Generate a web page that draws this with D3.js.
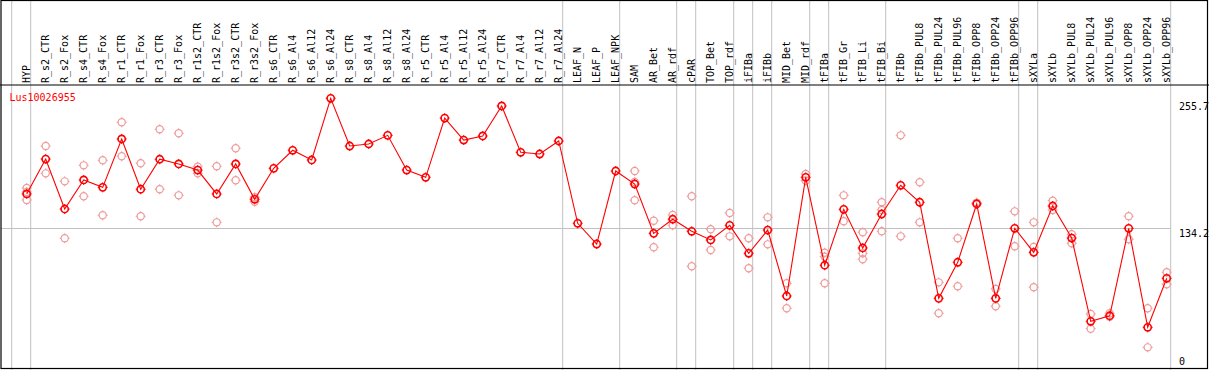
<!DOCTYPE html>
<html lang="en">
<head>
<meta charset="UTF-8">
<title>Lus10026955</title>
<style>
    body { margin: 0; background: #fff; }
    svg { display: block; }
    .lbl { font-family: "DejaVu Sans Mono", monospace; font-size: 10px; fill: #000; }
    .grid { stroke: #c0c0c0; stroke-width: 1; }
    .frame { stroke: #000; stroke-width: 1.2; fill: none; }
</style>
</head>
<body>
<svg id="chart" width="1209" height="370"></svg>
<script src="https://d3js.org/d3.v7.min.js"></script>
<script>
const geneName = 'Lus10026955';

const categories = ['HYP', 'R_s2_CTR', 'R_s2_Fox', 'R_s4_CTR', 'R_s4_Fox', 'R_r1_CTR', 'R_r1_Fox',
    'R_r3_CTR', 'R_r3_Fox', 'R_r1s2_CTR', 'R_r1s2_Fox', 'R_r3s2_CTR', 'R_r3s2_Fox',
    'R_s6_CTR', 'R_s6_Al4', 'R_s6_Al12', 'R_s6_Al24', 'R_s8_CTR', 'R_s8_Al4', 'R_s8_Al12', 'R_s8_Al24',
    'R_r5_CTR', 'R_r5_Al4', 'R_r5_Al12', 'R_r5_Al24', 'R_r7_CTR', 'R_r7_Al4', 'R_r7_Al12', 'R_r7_Al24',
    'LEAF_N', 'LEAF_P', 'LEAF_NPK', 'SAM', 'AR_Bet', 'AR_rdf', 'cPAR', 'TOP_Bet', 'TOP_rdf',
    'iFIBa', 'iFIBb', 'MID_Bet', 'MID_rdf', 'tFIBa', 'tFIB_Gr', 'tFIB_Li', 'tFIB_Bi', 'tFIBb',
    'tFIBb_PUL8', 'tFIBb_PUL24', 'tFIBb_PUL96', 'tFIBb_OPP8', 'tFIBb_OPP24', 'tFIBb_OPP96',
    'sXYLa', 'sXYLb', 'sXYLb_PUL8', 'sXYLb_PUL24', 'sXYLb_PUL96', 'sXYLb_OPP8', 'sXYLb_OPP24', 'sXYLb_OPP96'];

// mean expression per sample
const meanValues = [166.1, 198.8, 152.0, 179.2, 172.3, 217.6, 170.5,
    198.6, 194.2, 188.5, 166.1, 194.2, 161.1,
    190.1, 207.0, 197.9, 255.7, 211.0, 212.9, 221.0, 188.5,
    181.7, 237.2, 216.6, 220.4, 248.5, 205.1, 203.5, 215.7,
    138.6, 119.2, 187.6, 175.4, 129.2, 142.4, 131.1, 123.0, 136.7,
    110.5, 132.3, 70.5, 181.7, 99.3, 151.7, 115.5, 147.3, 174.2,
    158.3, 68.3, 102.1, 156.7, 68.3, 133.9,
    111.4, 154.8, 124.8, 46.8, 52.0, 133.9, 41.2, 87.1];

// individual replicates (empty where none are shown)
const replicateValues = [
    [171.7, 168.0, 160.5], [211.0, 185.4], [177.9, 124.6], [192.9, 163.9], [197.6, 146.1],
    [233.2, 201.4], [194.8, 145.2], [226.7, 170.5], [222.9, 164.8], [191.6, 185.4],
    [192.0, 139.5], [208.9, 178.9], [163.0, 158.8],
    [], [], [], [], [], [], [], [], [], [], [], [], [], [], [], [],
    [], [], [],
    [187.6, 177.3, 160.2], [141.0, 116.1], [146.4, 136.7], [163.9, 98.3], [133.0, 113.6],
    [148.3, 126.4], [124.6, 96.5], [144.2, 118.9], [82.4, 59.0], [184.8, 178.5],
    [111.1, 107.3, 82.4], [164.8, 140.5], [130.2, 110.5, 104.9], [158.3, 151.1, 131.1],
    [221.0, 126.4], [177.0, 139.5], [83.3, 54.3], [124.6, 79.6], [157.3, 158.0],
    [77.1, 60.9], [149.8, 117.1], [139.5, 116.4, 78.7], [159.8, 151.1], [128.3, 119.9],
    [53.6, 39.9], [54.3, 51.1], [145.2, 123.6], [59.0, 22.4], [92.7, 81.5]];

// group separators are drawn just after these samples
const groupEnds = ['HYP', 'R_r7_Al24', 'LEAF_NPK', 'AR_rdf', 'cPAR', 'TOP_rdf', 'iFIBa', 'iFIBb',
    'MID_rdf', 'tFIBa', 'tFIB_Bi', 'tFIBb_OPP96', 'sXYLa', 'sXYLb_OPP96'];

const yTicks = [0, 134.2, 255.7];

const svg = d3.select('#chart');
const W = 1209, H = 370;
const headerY = 85;

const x = d3.scalePoint().domain(categories).range([26.7, 1166.7]);
const y = d3.scaleLinear().domain([0, 255.7]).range([371.26, 98.3]);

// gridlines
const grid = svg.append('g');
grid.append('line').attr('class', 'grid')
    .attr('x1', x('HYP') + 4 - x.step()).attr('x2', x('HYP') + 4 - x.step())
    .attr('y1', 0).attr('y2', H);
grid.selectAll('line.v').data(groupEnds).enter().append('line')
    .attr('class', 'grid v')
    .attr('x1', d => x(d) + 4).attr('x2', d => x(d) + 4)
    .attr('y1', 0).attr('y2', H);
grid.append('line').attr('class', 'grid')
    .attr('x1', 1).attr('x2', x('sXYLb_OPP96') + 4)
    .attr('y1', Math.round(y(134.2)) + 0.5).attr('y2', Math.round(y(134.2)) + 0.5);

// frame and header separator
svg.append('rect').attr('class', 'frame')
    .attr('x', 1).attr('y', 0.5).attr('width', W - 2.5).attr('height', H - 2);
svg.append('line').attr('stroke', '#000').attr('stroke-width', 1.2)
    .attr('x1', 0).attr('x2', W).attr('y1', headerY).attr('y2', headerY);

// sample labels
svg.append('g').selectAll('text').data(categories).enter().append('text')
    .attr('class', 'lbl')
    .attr('transform', d => `translate(${x(d) + 3.5},${headerY - 2}) rotate(-90)`)
    .text(d => d);

// y labels
svg.append('g').selectAll('text').data(yTicks).enter().append('text')
    .attr('class', 'lbl')
    .attr('x', 1179)
    .attr('y', d => d === 0 ? 365 : (d === 255.7 ? y(d) + 12 : y(d) + 8.5))
    .text(d => d);

svg.append('text').attr('class', 'lbl')
    .attr('x', 9.5).attr('y', 100.5)
    .attr('fill', '#ff0000').style('fill', '#ff0000')
    .text(geneName);

function marker(g, cx, cy, color, sw) {
    g.append('circle').attr('cx', cx).attr('cy', cy).attr('r', 3.6)
        .attr('fill', 'none').attr('stroke', color).attr('stroke-width', sw);
    [[0, -1], [0, 1], [-1, 0], [1, 0]].forEach(([dx, dy]) => {
        g.append('line')
            .attr('x1', cx + dx * 3.6).attr('y1', cy + dy * 3.6)
            .attr('x2', cx + dx * 5).attr('y2', cy + dy * 5)
            .attr('stroke', color).attr('stroke-width', 1);
    });
}

// replicates
const reps = svg.append('g');
categories.forEach((c, i) => {
    replicateValues[i].forEach(v => marker(reps, x(c), y(v), '#ef9a9a', 1.2));
});

// mean line
svg.append('path')
    .datum(meanValues)
    .attr('fill', 'none').attr('stroke', '#ff0000').attr('stroke-width', 1.1)
    .attr('d', d3.line().x((d, i) => x(categories[i])).y(d => y(d)));

const means = svg.append('g');
meanValues.forEach((v, i) => marker(means, x(categories[i]), y(v), '#ff0000', 1.6));
</script>
</body>
</html>
